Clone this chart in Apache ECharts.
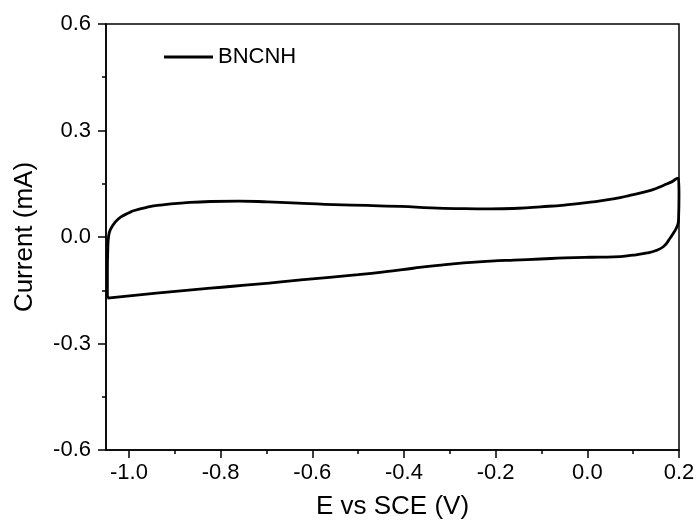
<!DOCTYPE html>
<html>
<head>
<meta charset="utf-8">
<script src="https://cdn.jsdelivr.net/npm/echarts@6/dist/echarts.min.js"></script>
<style>
html,body{margin:0;padding:0;background:#fff;}
#chart{width:699px;height:525px;}
</style>
</head>
<body>
<div id="chart"></div>
<script>
// Data
var seriesName = 'BNCNH';
var upperV = [-1.047,-1.047,-1.046,-1.044,-1.040,-1.030,-1.018,-1.000,-0.990,-0.960,-0.931,-0.880,-0.822,-0.760,-0.697,-0.620,-0.553,-0.480,-0.407,-0.340,-0.283,-0.211,-0.150,-0.102,-0.050,0.007,0.060,0.095,0.140,0.167,0.185,0.199];
var upperI = [-0.172,-0.100,-0.030,0.005,0.022,0.042,0.056,0.068,0.074,0.084,0.090,0.096,0.100,0.101,0.099,0.095,0.091,0.089,0.086,0.082,0.080,0.079,0.081,0.085,0.090,0.098,0.108,0.118,0.132,0.146,0.156,0.166];
var lowerV = [0.200,0.200,0.199,0.196,0.188,0.178,0.167,0.150,0.131,0.100,0.057,0.007,-0.050,-0.102,-0.160,-0.211,-0.270,-0.320,-0.380,-0.429,-0.500,-0.625,-0.720,-0.822,-0.940,-1.047];
var lowerI = [0.166,0.120,0.048,0.030,0.011,-0.008,-0.026,-0.038,-0.045,-0.051,-0.056,-0.057,-0.059,-0.062,-0.065,-0.068,-0.073,-0.079,-0.088,-0.096,-0.106,-0.121,-0.133,-0.144,-0.158,-0.172];
var xMajorTicks = [-1.0,-0.8,-0.6,-0.4,-0.2,0.0,0.2];
var xMinorTicks = [-0.9,-0.7,-0.5,-0.3,-0.1,0.1];

var data = [];
for (var i = 0; i < upperV.length; i++) data.push([upperV[i], upperI[i]]);
for (var j = 0; j < lowerV.length; j++) data.push([lowerV[j], lowerI[j]]);

var FONT = '"Liberation Sans", Arial, sans-serif';
function fmt(v){ return (Math.abs(v) < 1e-9 ? 0 : v).toFixed(1); }
var chart = echarts.init(document.getElementById('chart'));
chart.setOption({
  backgroundColor: '#fff',
  animation: false,
  legend: {
    data: [seriesName],
    left: 159, top: 41,
    icon: 'rect',
    itemWidth: 49, itemHeight: 2.8,
    itemStyle: {color: '#000'},
    textStyle: {fontFamily: FONT, fontSize: 22, color: '#000'}
  },
  grid: {left: 106, right: 20, top: 24, bottom: 74, show: true, borderColor: '#000', borderWidth: 1.5, containLabel: false},
  xAxis: [{
    type: 'value', min: -1.05, max: 0.2,
    name: 'E vs SCE (V)', nameLocation: 'middle', nameGap: 44,
    nameTextStyle: {fontFamily: FONT, fontSize: 26, color: '#000'},
    axisLine: {show: true, onZero: false, lineStyle: {color: '#000', width: 1.5}},
    axisTick: {show: true, inside: false, customValues: xMajorTicks, length: 8, lineStyle: {color: '#000', width: 1.5}},
    axisLabel: {customValues: xMajorTicks, margin: 12, fontFamily: FONT, fontSize: 22, color: '#000', formatter: fmt},
    splitLine: {show: false}
  }, {
    type: 'value', min: -1.05, max: 0.2, position: 'bottom',
    axisLine: {show: false, onZero: false},
    axisTick: {show: true, inside: false, customValues: xMinorTicks, length: 4, lineStyle: {color: '#000', width: 1.5}},
    axisLabel: {show: false},
    splitLine: {show: false}
  }],
  yAxis: {
    type: 'value', min: -0.6, max: 0.6, interval: 0.3,
    name: 'Current (mA)', nameLocation: 'middle', nameGap: 68,
    nameTextStyle: {fontFamily: FONT, fontSize: 26, color: '#000'},
    axisLine: {show: true, onZero: false, lineStyle: {color: '#000', width: 1.5}},
    axisTick: {show: true, inside: false, length: 8, lineStyle: {color: '#000', width: 1.5}},
    minorTick: {show: true, splitNumber: 2, length: 4, lineStyle: {color: '#000', width: 1.5}},
    axisLabel: {margin: 15, fontFamily: FONT, fontSize: 22, color: '#000', formatter: fmt},
    splitLine: {show: false},
    minorSplitLine: {show: false}
  },
  series: [{
    name: seriesName, type: 'line', data: data,
    xAxisIndex: 0,
    symbol: 'none', smooth: 0.5,
    lineStyle: {color: '#000', width: 2.8},
    itemStyle: {color: '#000'}
  }]
});
</script>
</body>
</html>
